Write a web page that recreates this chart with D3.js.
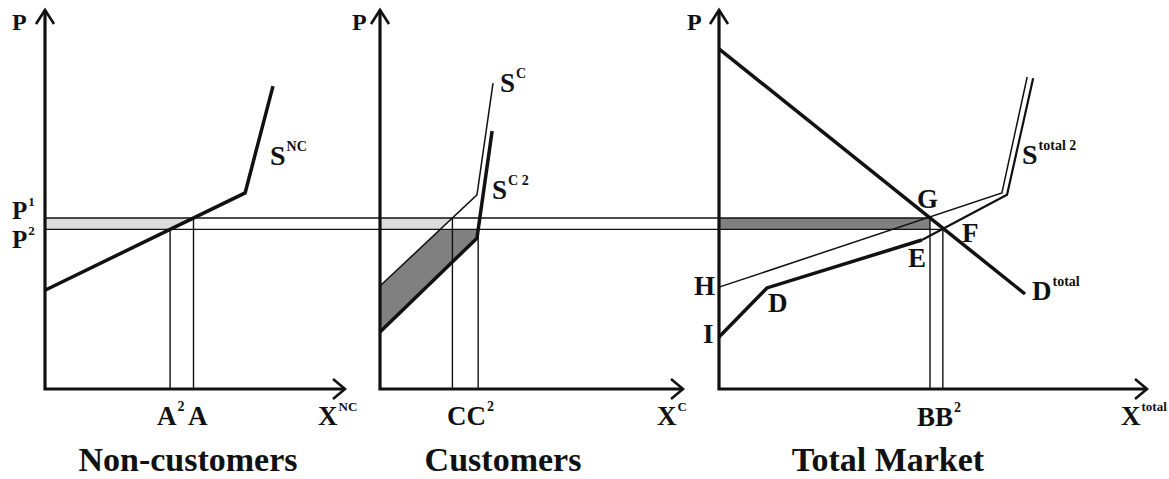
<!DOCTYPE html>
<html>
<head>
<meta charset="utf-8">
<script src="https://cdn.jsdelivr.net/npm/d3@7"></script>
<style>
  body { margin: 0; background: #fff; }
  text { font-family: "Liberation Serif", "Times New Roman", serif; font-weight: bold; fill: #111; }
</style>
</head>
<body>
<div id="chart"></div>
<script>
// prices (shared vertical scale, 0..100)
var P1 = 45, P2 = 42;

// Non-customers
var supplyNC = [[0, 26], [66.7, 51.6], [76, 79.7]];
var qA = 49.5, qA2 = 41.7;

// Customers
var supplyC = [[0, 27.1], [32, 51.1], [37.3, 80.5]];
var supplyC2 = [[0, 15], [32, 39.7], [37, 67.9]];
var qC = 23.9, qC2 = 32.4;

// Total market
var demandTotal = [[0, 89.5], [71.5, 25]];
var supplyTotal = [[0, 26.8], [66.1, 51.6], [72, 82.1]];
var supplyTotal2a = [[0, 13.7], [11.2, 26.6], [47.4, 39.2]];
var supplyTotal2b = [[47.4, 39.2], [67.3, 51.1], [73.4, 81.8]];
var qB = 49.3, qB2 = 52.3;

var width = 1169, height = 479;
var ink = "#111";

var svg = d3.select("#chart").append("svg")
    .attr("width", width)
    .attr("height", height);

var y = d3.scaleLinear().domain([0, 100]).range([389, 9]);
var x1 = d3.scaleLinear().domain([0, 100]).range([45, 345]);
var x2 = d3.scaleLinear().domain([0, 100]).range([380, 683]);
var x3 = d3.scaleLinear().domain([0, 100]).range([719, 1147]);

// x where a piecewise line reaches price p
function xAt(pts, p) {
    for (var i = 0; i < pts.length - 1; i++) {
        var a = pts[i], b = pts[i + 1];
        if ((p - a[1]) * (p - b[1]) <= 0) {
            return a[0] + (p - a[1]) / (b[1] - a[1]) * (b[0] - a[0]);
        }
    }
    return pts[0][0];
}

function lineFor(xs) {
    return d3.line().x(d => xs(d[0])).y(d => y(d[1]));
}

function area(xs, pts, fill) {
    svg.append("path")
        .attr("d", lineFor(xs)(pts) + "Z")
        .attr("fill", fill)
        .attr("stroke", "none");
}

function curve(xs, pts, w) {
    svg.append("path")
        .attr("d", lineFor(xs)(pts))
        .attr("fill", "none")
        .attr("stroke", ink)
        .attr("stroke-width", w)
        .attr("stroke-linejoin", "miter");
}

//Fills
area(x1, [[0, P1], [qA, P1], [qA2, P2], [0, P2]], "#dcdcdc");
var cAtP2 = xAt(supplyC, P2);
area(x2, [[0, P1], [qC, P1], [cAtP2, P2], [0, P2]], "#dcdcdc");
area(x2, [supplyC[0], [cAtP2, P2], [qC2, P2], supplyC2[1], supplyC2[0]], "#808080");
area(x3, [[0, P1], [qB, P1], [qB, P2], [0, P2]], "#808080");

//Price lines running through all three panels
[[P1, qB], [P2, qB2]].forEach(function(d) {
    svg.append("line")
        .attr("x1", x1(0)).attr("x2", x3(d[1]))
        .attr("y1", y(d[0])).attr("y2", y(d[0]))
        .attr("stroke", ink).attr("stroke-width", 1.4);
});

//Quantity drop lines
[[x1, qA, P1], [x1, qA2, P2], [x2, qC, P1], [x2, qC2, P2], [x3, qB, P1], [x3, qB2, P2]].forEach(function(d) {
    svg.append("line")
        .attr("x1", d[0](d[1])).attr("x2", d[0](d[1]))
        .attr("y1", y(0)).attr("y2", y(d[2]))
        .attr("stroke", ink).attr("stroke-width", 1.4);
});

//Curves
curve(x1, supplyNC, 3.5);
curve(x2, supplyC, 1.5);
curve(x2, supplyC2, 3.5);
curve(x3, demandTotal, 3.5);
curve(x3, supplyTotal, 1.5);
curve(x3, supplyTotal2a, 3.5);
curve(x3, supplyTotal2b, 2.2);

//Axes with open arrow heads
[x1, x2, x3].forEach(function(xs) {
    var ox = xs(0), oy = y(0), top = 10, right = xs(100);
    svg.append("path")
        .attr("d", "M" + ox + "," + top + "V" + oy + "H" + right)
        .attr("fill", "none").attr("stroke", ink).attr("stroke-width", 3.2);
    svg.append("path")
        .attr("d", "M" + (ox - 9) + "," + (top + 14) + "L" + ox + "," + top + "L" + (ox + 9) + "," + (top + 14))
        .attr("fill", "none").attr("stroke", ink).attr("stroke-width", 2.6);
    svg.append("path")
        .attr("d", "M" + (right - 12) + "," + (oy - 10) + "L" + right + "," + oy + "L" + (right - 12) + "," + (oy + 10))
        .attr("fill", "none").attr("stroke", ink).attr("stroke-width", 2.6);
});

//Labels
function label(x, yy, main, sup, size, supSize, anchor) {
    var t = svg.append("text")
        .attr("x", x).attr("y", yy)
        .attr("font-size", size)
        .attr("text-anchor", anchor || "start");
    t.append("tspan").text(main);
    if (sup) {
        t.append("tspan")
            .attr("font-size", supSize || 14)
            .attr("dy", -Math.round(size * 0.5))
            .attr("dx", 1)
            .text(sup);
    }
    return t;
}

label(12, 30, "P", null, 24);
label(352, 30, "P", null, 24);
label(687, 30, "P", null, 24);

label(12, 219, "P", "1", 25, 13);
label(12, 248, "P", "2", 25, 13);

label(270, 165, "S", "NC", 28, 14);
label(500, 92, "S", "C", 27, 14);
label(492, 199, "S", "C 2", 27, 14);
label(1022, 164, "S", "total 2", 28, 14);
label(1032, 300, "D", "total", 27, 14);

label(917, 208, "G", null, 27);
label(962, 242, "F", null, 27);
label(908, 267, "E", null, 27);
label(694, 295, "H", null, 27);
label(703, 343, "I", null, 27);
label(768, 312, "D", null, 27);

label(157, 425, "A", "2", 27, 14);
label(188, 425, "A", null, 27);
label(447, 425, "CC", "2", 27, 14);
label(917, 426, "BB", "2", 27, 14);

label(318, 425, "X", "NC", 27, 13);
label(657, 425, "X", "C", 27, 13);
label(1121, 425, "X", "total", 27, 13);

label(188, 471, "Non-customers", null, 34, null, "middle");
label(503, 471, "Customers", null, 34, null, "middle");
label(888, 471, "Total Market", null, 34, null, "middle");
</script>
</body>
</html>
